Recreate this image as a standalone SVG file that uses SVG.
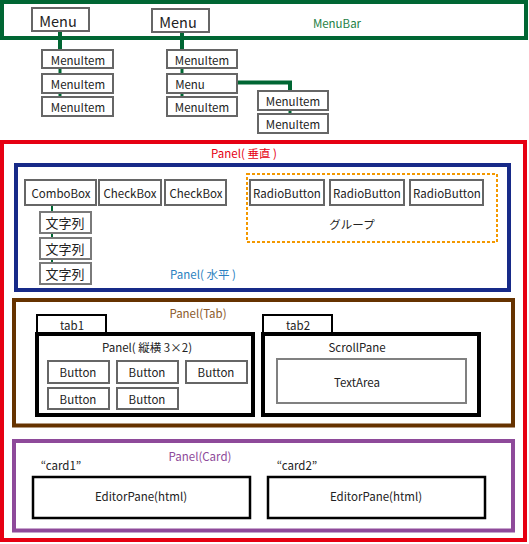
<svg xmlns="http://www.w3.org/2000/svg" width="529" height="544" viewBox="0 0 529 544">
<style>
text{font-family:"Noto Sans CJK JP","Noto Sans",sans-serif;font-size:11.5px;fill:#222;text-anchor:middle;dominant-baseline:central}
.big{font-size:14.5px}
.box{fill:#fff;stroke:#666;stroke-width:2}
.lbox{fill:#fff;stroke:#7a7a7a;stroke-width:2}
.blk{fill:#fff;stroke:#000;stroke-width:4}
.blk2{fill:#fff;stroke:#000;stroke-width:2.5}
.con{fill:none;stroke:#006633;stroke-width:4}
.con2{fill:none;stroke:#006633;stroke-width:3}
</style>
<g id="menubar"><rect x="2" y="2" width="524" height="36" fill="#fff" stroke="#006633" stroke-width="4"/><text x="337" y="23" style="fill:#1e7f45">MenuBar</text></g>
<g id="panel-vertical"><rect x="2" y="142" width="523" height="398" fill="#fff" stroke="#e60012" stroke-width="4"/><text x="244" y="153" style="fill:#e60012">Panel( 垂直 )</text></g>
<g id="panel-horizontal"><rect x="16" y="165" width="493" height="125" fill="#fff" stroke="#172a88" stroke-width="4"/><text x="203" y="274" style="fill:#2a7fc0">Panel( 水平 )</text></g>
<g id="group"><rect x="247" y="174" width="250" height="68" fill="none" stroke="#f39800" stroke-width="2" stroke-dasharray="3,2"/><text x="352" y="224">グループ</text></g>
<g id="panel-tab"><rect x="14" y="300" width="499" height="125.5" fill="#fff" stroke="#663300" stroke-width="4"/><text x="198" y="313" style="fill:#8b5a2b">Panel(Tab)</text></g>
<g id="panel-card"><rect x="14" y="441" width="499" height="89.5" fill="#fff" stroke="#8e4a9a" stroke-width="4"/><text x="200" y="456" style="fill:#8e4a9a">Panel(Card)</text></g>
<g id="connectors">
<line class="con" x1="60" y1="31" x2="60" y2="49"/>
<line class="con2" x1="60" y1="68" x2="60" y2="73"/>
<line class="con2" x1="60" y1="93" x2="60" y2="97"/>
<line class="con" x1="182" y1="32" x2="182" y2="49"/>
<line class="con2" x1="182" y1="68" x2="182" y2="73"/>
<line class="con2" x1="182" y1="93" x2="182" y2="97"/>
<polyline class="con" points="237,82.5 290,82.5 290,91"/>
<line class="con2" x1="290" y1="110" x2="290" y2="114"/>
<line stroke="#006633" stroke-width="2" x1="52" y1="206" x2="52" y2="211"/>
<line stroke="#006633" stroke-width="2" x1="52" y1="233" x2="52" y2="237"/>
<line stroke="#006633" stroke-width="2" x1="52" y1="259" x2="52" y2="263"/>
</g>
<g id="menu1"><rect class="box" x="32" y="8" width="57" height="23"/><text class="big" x="58" y="20">Menu</text></g>
<g id="menu2"><rect class="box" x="152" y="9" width="57" height="23"/><text class="big" x="178" y="21">Menu</text></g>
<g id="mi1"><rect class="box" x="42" y="50" width="71" height="18"/><text x="78" y="60">MenuItem</text></g>
<g id="mi2"><rect class="box" x="42" y="74" width="71" height="19"/><text x="78" y="84">MenuItem</text></g>
<g id="mi3"><rect class="box" x="42" y="97" width="71" height="19"/><text x="78" y="107">MenuItem</text></g>
<g id="mi4"><rect class="box" x="167" y="50" width="70" height="18"/><text x="202" y="60">MenuItem</text></g>
<g id="menu3"><rect class="box" x="167" y="74" width="70" height="19"/><text x="190" y="84">Menu</text></g>
<g id="mi5"><rect class="box" x="167" y="97" width="70" height="19"/><text x="202" y="107">MenuItem</text></g>
<g id="mi6"><rect class="box" x="258" y="91" width="70" height="19"/><text x="293" y="101">MenuItem</text></g>
<g id="mi7"><rect class="box" x="258" y="114" width="70" height="19"/><text x="293" y="124">MenuItem</text></g>
<g id="combobox"><rect class="box" x="25" y="180" width="71" height="25" stroke-width="2.5"/><text x="61" y="193">ComboBox</text></g>
<g id="checkbox1"><rect class="box" x="99" y="180" width="62" height="25" stroke-width="2.5"/><text x="130" y="193">CheckBox</text></g>
<g id="checkbox2"><rect class="box" x="165" y="180" width="61" height="25" stroke-width="2.5"/><text x="196" y="193">CheckBox</text></g>
<g id="str1"><rect class="lbox" x="40" y="212" width="51" height="21"/><text x="65" y="222" style="font-size:13px">文字列</text></g>
<g id="str2"><rect class="lbox" x="40" y="238" width="51" height="21"/><text x="65" y="248" style="font-size:13px">文字列</text></g>
<g id="str3"><rect class="lbox" x="40" y="263" width="51" height="21"/><text x="65" y="273" style="font-size:13px">文字列</text></g>
<g id="radio1"><rect class="box" x="250" y="180" width="74" height="25" stroke-width="2.5"/><text x="287" y="193">RadioButton</text></g>
<g id="radio2"><rect class="box" x="330" y="180" width="74" height="25" stroke-width="2.5"/><text x="367" y="193">RadioButton</text></g>
<g id="radio3"><rect class="box" x="410" y="180" width="73" height="25" stroke-width="2.5"/><text x="447" y="193">RadioButton</text></g>
<g id="tab1"><rect x="37" y="315" width="69" height="18" fill="#fff" stroke="#000" stroke-width="2"/><text x="72" y="325">tab1</text></g>
<g id="tab2"><rect x="263" y="315" width="69" height="18" fill="#fff" stroke="#000" stroke-width="2"/><text x="298" y="325">tab2</text></g>
<g id="panel-grid"><rect class="blk" x="37" y="334" width="216" height="81"/><text x="147" y="347">Panel( 縦横 3×2)</text></g>
<g id="btn1"><rect class="box" x="48" y="361" width="61" height="22"/><text x="78" y="372">Button</text></g>
<g id="btn2"><rect class="box" x="117" y="361" width="61" height="22"/><text x="147" y="372">Button</text></g>
<g id="btn3"><rect class="box" x="186" y="361" width="61" height="22"/><text x="216" y="372">Button</text></g>
<g id="btn4"><rect class="box" x="48" y="388" width="61" height="21"/><text x="78" y="399">Button</text></g>
<g id="btn5"><rect class="box" x="117" y="388" width="61" height="21"/><text x="147" y="399">Button</text></g>
<g id="scrollpane"><rect class="blk" x="263" y="334" width="216" height="81"/><text x="357" y="347">ScrollPane</text></g>
<g id="textarea"><rect x="277" y="359" width="189" height="44" fill="#fff" stroke="#808080" stroke-width="2"/><text x="357" y="382">TextArea</text></g>
<g id="card1"><text x="61" y="465">“card1”</text><rect class="blk2" x="33" y="477" width="217" height="41"/><text x="141" y="496">EditorPane(html)</text></g>
<g id="card2"><text x="297" y="465">“card2”</text><rect class="blk2" x="268" y="477" width="217" height="41"/><text x="376" y="496">EditorPane(html)</text></g>
</svg>
